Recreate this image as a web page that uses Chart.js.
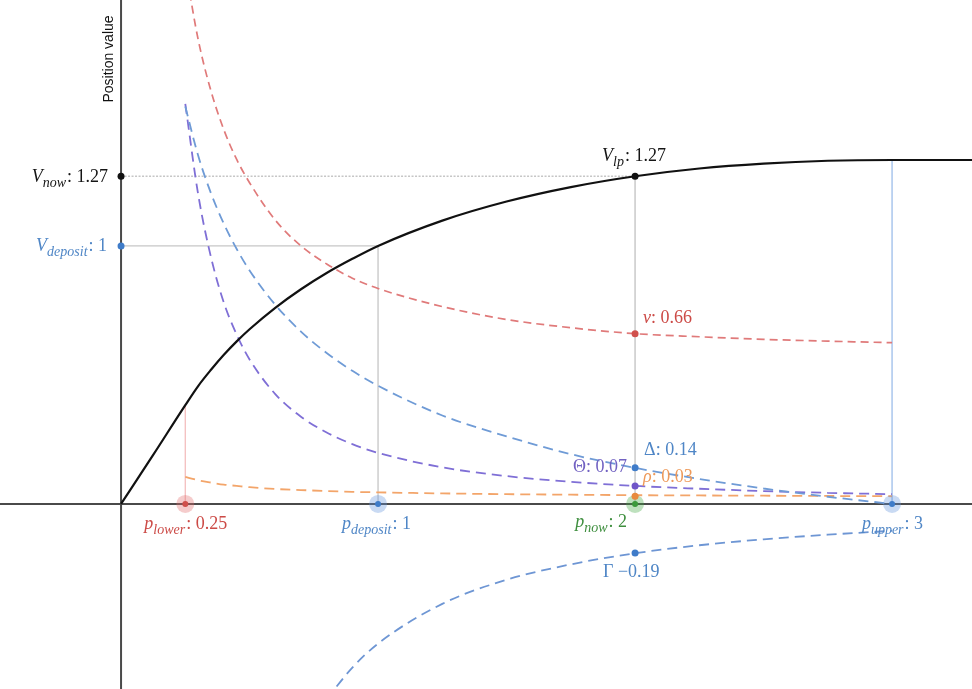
<!DOCTYPE html>
<html><head><meta charset="utf-8">
<script src="https://cdn.jsdelivr.net/npm/chart.js@4.4.1/dist/chart.umd.min.js"></script>
<style>html,body{margin:0;padding:0;background:#fff}#wrap{width:972px;height:689px;position:relative}</style>
</head><body><div id="wrap"><canvas id="c"></canvas></div>
<script>
// ---- data ----
const pLower = 0.25, pDeposit = 1, pNow = 2, pUpper = 3;
const vNow = 1.27, vDeposit = 1;
const lpPrice = [0, 0.125, 0.25, 0.3, 0.35, 0.4, 0.45, 0.5, 0.6, 0.7, 0.8, 0.9, 1, 1.25, 1.5, 1.75, 2, 2.25, 2.5, 2.75, 3, 3.32];
const lpValue = [0, 0.19, 0.383, 0.457, 0.52, 0.578, 0.63, 0.677, 0.76, 0.832, 0.895, 0.95, 1.0, 1.098, 1.172, 1.228, 1.27, 1.30, 1.319, 1.33, 1.333, 1.333];
const greekPrice  = [0.25, 0.3, 0.35, 0.4, 0.45, 0.5, 0.6, 0.7, 0.8, 0.9, 1, 1.25, 1.5, 1.75, 2, 2.25, 2.5, 2.75, 3];
const nuValues    = [2.08, 1.80, 1.60, 1.45, 1.335, 1.245, 1.10, 1.0, 0.93, 0.875, 0.835, 0.765, 0.715, 0.683, 0.66, 0.648, 0.638, 0.631, 0.625];
const deltaValues = [1.54, 1.35, 1.204, 1.086, 0.988, 0.905, 0.772, 0.668, 0.585, 0.516, 0.458, 0.343, 0.262, 0.193, 0.14, 0.097, 0.06, 0.028, 0.0];
const thetaValues = [1.55, 1.2, 0.956, 0.78, 0.656, 0.56, 0.426, 0.338, 0.277, 0.232, 0.198, 0.142, 0.108, 0.086, 0.07, 0.059, 0.05, 0.043, 0.038];
const rhoValues   = [0.105, 0.092, 0.083, 0.075, 0.07, 0.065, 0.058, 0.054, 0.05, 0.047, 0.045, 0.041, 0.038, 0.036, 0.034, 0.033, 0.032, 0.031, 0.03];
const gammaPrice  = [0.8, 0.9, 1, 1.25, 1.5, 1.75, 2, 2.25, 2.5, 2.75, 3];
const gammaValues = [-0.756, -0.634, -0.541, -0.387, -0.294, -0.234, -0.191, -0.16, -0.137, -0.119, -0.104];
const nowGreeks = { nu: 0.66, delta: 0.14, theta: 0.07, rho: 0.03, gamma: -0.19 };
const vUpper = lpValue[lpPrice.indexOf(pUpper)];
const vLower = lpValue[lpPrice.indexOf(pLower)];

// ---- colours ----
const C = {
  black: '#111111', red: '#e07a7a', redDot: '#d0504c', redText: '#cc4a46',
  blue: '#6f9bd6', blueDot: '#3f7cc9', blueText: '#4f86c6',
  purple: '#7f6fd6', purpleDot: '#6f55c8', purpleText: '#7262c2',
  orange: '#f3a56a', orangeDot: '#e88a3e', orangeText: '#ee9a5a',
  green: '#3b9a3b', greenText: '#3f8f3f', gamma: '#6e96d4'
};

const xy = (xs, ys) => xs.map((x, i) => ({ x, y: ys[i] }));
const curve = (label, xs, ys, color, order, dash, width) => ({
  label, data: xy(xs, ys), showLine: true, borderColor: color, borderWidth: width || 1.6,
  borderDash: dash || [], pointRadius: 0, cubicInterpolationMode: 'monotone', fill: false, order
});
const seg = (a, b, color, dash, width) => ({
  data: [a, b], showLine: true, borderColor: color, borderWidth: width || 1.5, borderDash: dash || [],
  pointRadius: 0, fill: false, order: 20
});
const dot = (pt, color, r, order) => ({
  data: [pt], showLine: false, pointRadius: r, pointBackgroundColor: color, pointBorderWidth: 0,
  pointHoverRadius: r, order
});

const datasets = [
  seg({x: 0, y: vNow}, {x: pNow, y: vNow}, 'rgba(160,160,160,0.6)', [2, 1.5], 1.4),
  seg({x: 0, y: vDeposit}, {x: pDeposit, y: vDeposit}, 'rgba(160,160,160,0.6)', [], 1.4),
  seg({x: pDeposit, y: 0}, {x: pDeposit, y: vDeposit}, 'rgba(170,170,170,0.55)', [], 1.6),
  seg({x: pNow, y: 0}, {x: pNow, y: vNow}, 'rgba(170,170,170,0.6)', [], 1.6),
  seg({x: pUpper, y: 0}, {x: pUpper, y: vUpper}, 'rgba(120,165,225,0.6)', [], 1.6),
  seg({x: pLower, y: 0}, {x: pLower, y: vLower}, 'rgba(230,120,120,0.45)', [], 1.4),
  curve('nu', greekPrice, nuValues, C.red, 8, [8, 5], 1.7),
  curve('delta', greekPrice, deltaValues, C.blue, 7, [10, 6], 1.8),
  curve('theta', greekPrice, thetaValues, C.purple, 7, [10, 6], 1.8),
  curve('rho', greekPrice, rhoValues, C.orange, 7, [10, 6], 1.8),
  curve('gamma', gammaPrice, gammaValues, C.gamma, 7, [10, 6], 1.8),
  curve('value', lpPrice, lpValue, C.black, 5, [], 2.2),
  dot({x: pLower, y: 0}, 'rgba(225,110,110,0.35)', 9, 3),
  dot({x: pDeposit, y: 0}, 'rgba(100,150,220,0.35)', 9, 3),
  dot({x: pNow, y: 0}, 'rgba(70,170,70,0.35)', 9, 3),
  dot({x: pUpper, y: 0}, 'rgba(100,150,220,0.35)', 9, 3),
  dot({x: pLower, y: 0}, C.redDot, 3, 1),
  dot({x: pDeposit, y: 0}, C.blueDot, 3, 1),
  dot({x: pNow, y: 0}, C.green, 3, 1),
  dot({x: pUpper, y: 0}, C.blueDot, 3, 1),
  dot({x: 0, y: vNow}, C.black, 3.5, 1),
  dot({x: 0, y: vDeposit}, C.blueDot, 3.5, 1),
  dot({x: pNow, y: vNow}, C.black, 3.5, 1),
  dot({x: pNow, y: nowGreeks.nu}, C.redDot, 3.5, 1),
  dot({x: pNow, y: nowGreeks.delta}, C.blueDot, 3.5, 1),
  dot({x: pNow, y: nowGreeks.theta}, C.purpleDot, 3.5, 1),
  dot({x: pNow, y: nowGreeks.rho}, C.orangeDot, 3.5, 1),
  dot({x: pNow, y: nowGreeks.gamma}, C.blueDot, 3.5, 1)
];

const fmt = v => v.toFixed(2);
const labels = [
  {x: 0, parts: [['V','i'],['now','s'],[': ' + fmt(vNow),'n']], color: '#151515', align: 'right', dx: -13, by: 182},
  {x: 0, parts: [['V','i'],['deposit','s'],[': ' + vDeposit,'n']], color: C.blueText, align: 'right', dx: -14, by: 251},
  {x: pNow, parts: [['V','i'],['lp','s'],[': ' + fmt(vNow),'n']], color: '#151515', align: 'left', dx: -33, by: 161},
  {x: pNow, parts: [['ν','i'],[': ' + fmt(nowGreeks.nu),'n']], color: C.redText, align: 'left', dx: 8, by: 323},
  {x: pNow, parts: [['Δ: ' + fmt(nowGreeks.delta),'n']], color: C.blueText, align: 'left', dx: 9, by: 455},
  {x: pNow, parts: [['Θ: ' + fmt(nowGreeks.theta),'n']], color: C.purpleText, align: 'right', dx: -8, by: 472},
  {x: pNow, parts: [['ρ','i'],[': ' + fmt(nowGreeks.rho),'n']], color: C.orangeText, align: 'left', dx: 8, by: 482},
  {x: pNow, parts: [['p','i'],['now','s'],[': ' + pNow,'n']], color: C.greenText, align: 'right', dx: -8, by: 527},
  {x: pUpper, parts: [['p','i'],['upper','s'],[': ' + pUpper,'n']], color: C.blueText, align: 'right', dx: 31, by: 529},
  {x: pLower, parts: [['p','i'],['lower','s'],[': ' + pLower,'n']], color: C.redText, align: 'left', dx: -41, by: 529},
  {x: pDeposit, parts: [['p','i'],['deposit','s'],[': ' + pDeposit,'n']], color: C.blueText, align: 'left', dx: -36, by: 529},
  {x: pNow, parts: [['Γ −' + Math.abs(nowGreeks.gamma).toFixed(2),'n']], color: C.blueText, align: 'left', dx: -32, by: 577}
];

const FONT = '"Liberation Serif", "DejaVu Serif", serif';
function partFont(kind) {
  if (kind === 'i') return 'italic 18px ' + FONT;
  if (kind === 's') return 'italic 14px ' + FONT;
  return '18px ' + FONT;
}

const overlay = {
  id: 'overlay',
  beforeDatasetsDraw(chart) {
    const {ctx, scales: {x, y}, chartArea: a} = chart;
    const x0 = x.getPixelForValue(0), y0 = y.getPixelForValue(0);
    ctx.save();
    ctx.strokeStyle = '#4a4a4a';
    ctx.lineWidth = 2;
    ctx.beginPath();
    ctx.moveTo(a.left, y0); ctx.lineTo(a.right, y0);
    ctx.moveTo(x0, a.top); ctx.lineTo(x0, a.bottom);
    ctx.stroke();
    ctx.translate(x0 - 12, 59);
    ctx.rotate(-Math.PI / 2);
    ctx.fillStyle = '#111';
    ctx.font = '14px "Liberation Sans", Arial, sans-serif';
    ctx.textAlign = 'center';
    ctx.textBaseline = 'middle';
    ctx.fillText('Position value', 0, 0);
    ctx.restore();
  },
  afterDatasetsDraw(chart) {
    const {ctx, scales: {x}} = chart;
    ctx.save();
    ctx.textBaseline = 'alphabetic';
    ctx.textAlign = 'left';
    labels.forEach(l => {
      let w = 0;
      l.parts.forEach(p => { ctx.font = partFont(p[1]); w += ctx.measureText(p[0]).width + (p[1] === 's' ? 1 : 0); });
      const ax = x.getPixelForValue(l.x) + l.dx;
      let cx = l.align === 'right' ? ax - w : ax;
      ctx.fillStyle = l.color;
      l.parts.forEach(p => {
        ctx.font = partFont(p[1]);
        const dy = p[1] === 's' ? 5 : 0;
        ctx.fillText(p[0], cx, l.by + dy);
        cx += ctx.measureText(p[0]).width + (p[1] === 's' ? 1 : 0);
      });
    });
    ctx.restore();
  }
};

new Chart(document.getElementById('c'), {
  type: 'scatter',
  data: { datasets },
  options: {
    responsive: true, maintainAspectRatio: false, animation: false, devicePixelRatio: 1,
    layout: { padding: 0, autoPadding: false },
    plugins: { legend: { display: false }, tooltip: { enabled: false } },
    scales: {
      x: { type: 'linear', min: -0.471, max: 3.311, display: false },
      y: { type: 'linear', min: -0.717, max: 1.953, display: false }
    }
  },
  plugins: [overlay]
});
</script>
</body></html>
